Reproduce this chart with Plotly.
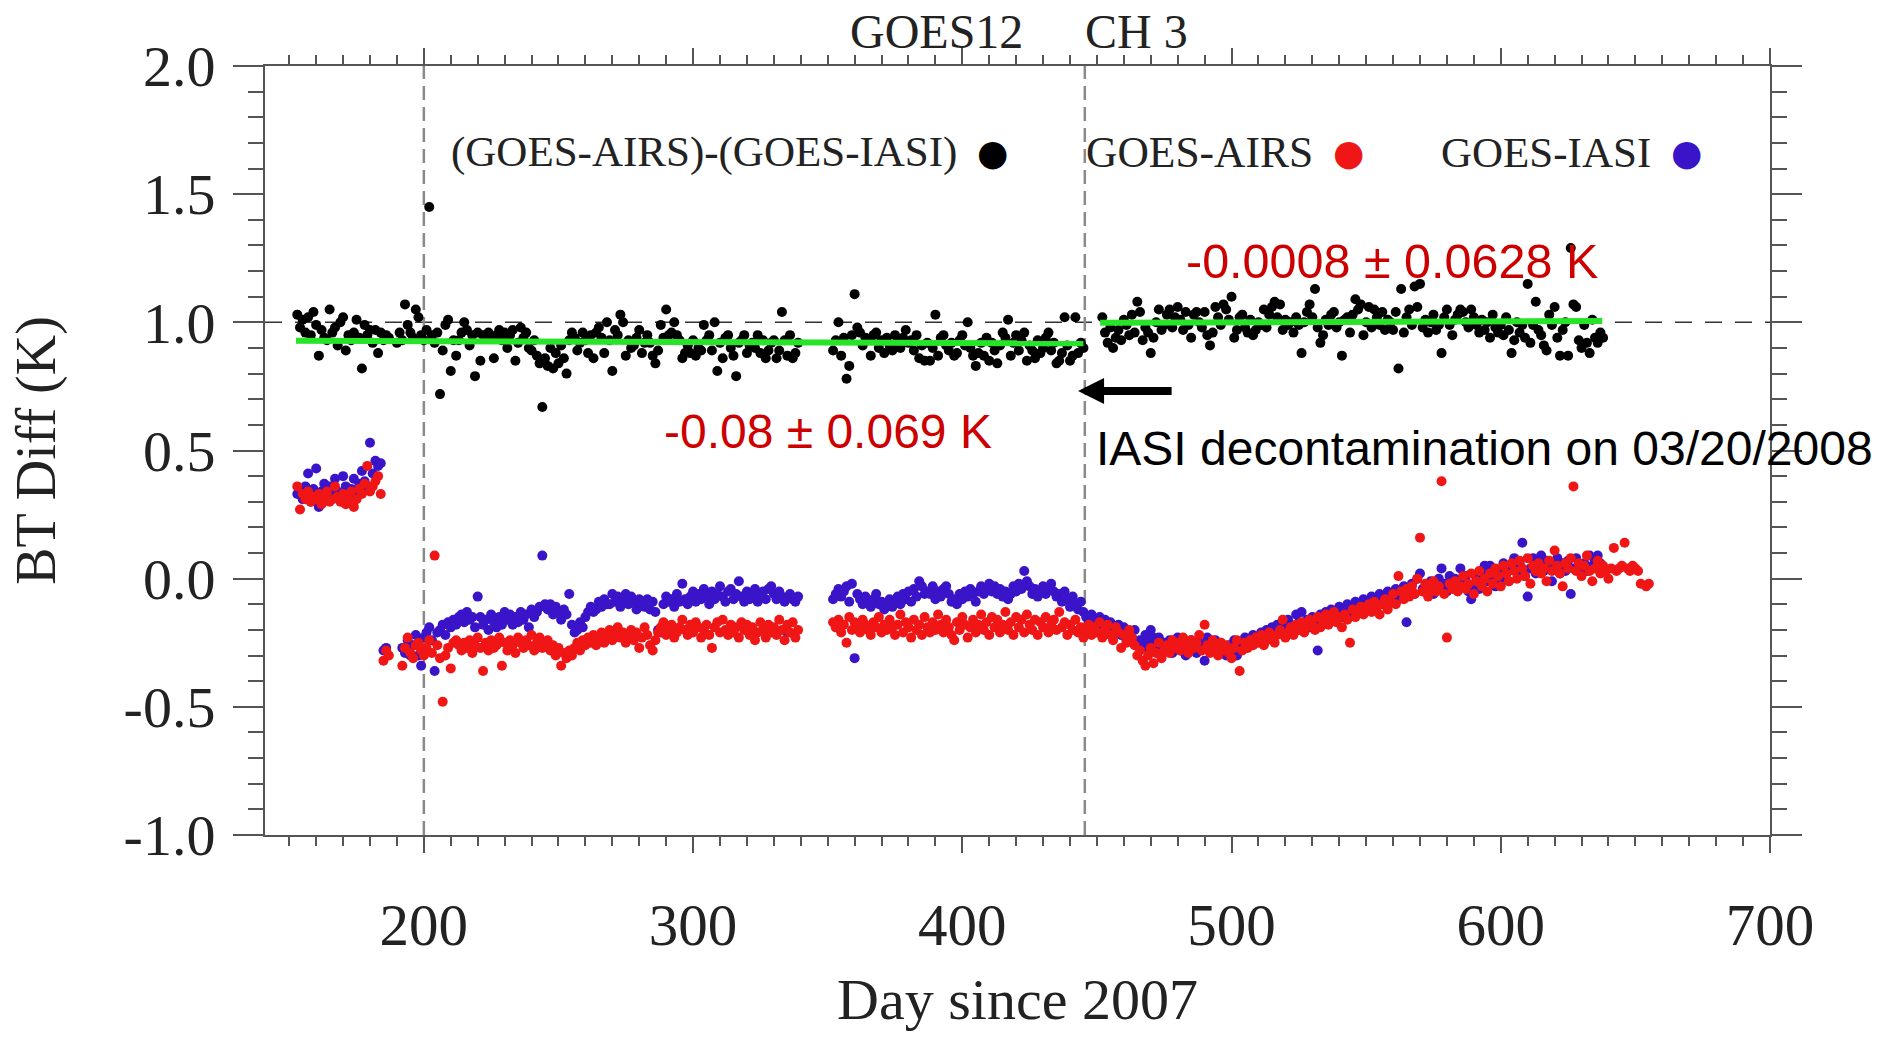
import plotly.graph_objects as go

# ---------------- data ----------------
# (GOES-AIRS)-(GOES-IASI)  -- daily values, segments start at given day
black_start_1 = 153
black_vals_1 = [
    1.03, 0.98, 1.01, 0.96, 1.02, 0.95, 1.04, 0.99, 0.87, 0.97,
    0.94, 0.93, 1.05, 0.96, 0.98, 0.91, 1.00, 1.02, 0.89, 0.95,
    0.93, 0.96, 1.01, 0.94, 0.82, 0.99, 0.95, 0.97, 0.92, 0.97,
    0.88, 0.96, 0.93, 0.95, 0.94, None, None, 0.92, 0.96, 0.93,
    1.07, 0.99, 0.96, 0.94, 1.05, 1.02, 0.95, 0.93, 0.97, 1.45,
    0.95, 0.92, 0.96, 0.72, 0.89, 0.99, 1.01, 0.81, 0.93, 0.87,
    0.93, 0.96, 1.00, 0.97, 0.91, 0.95, 0.79, 0.96, 0.85, 0.95,
    0.95, 0.96, 0.94, 0.86, 0.95, 0.97, 0.93, 0.96, 0.90, 0.95,
    0.97, 0.85, 0.92, 0.98, 0.94, 0.96, 0.90, 0.89, 0.93, 0.87,
    0.84, 0.67, 0.86, 0.83, 0.90, 0.82, 0.88, 0.84, 0.91, 0.86,
    0.80, 0.93, 0.96, 0.94, 0.89, 0.92, 0.96, 0.93, 0.88, 0.95,
    0.86, 0.96, 0.98, 0.94, 0.88, 1.00, 0.93, 0.81, 0.97, 0.95,
    1.03, 1.00, 0.87, 0.93, 0.90, 0.91, 0.94, 0.97, 0.88, 0.92,
    0.95, 0.92, 0.87, 0.84, 0.89, 0.99, 0.94, 1.05, 0.95, 0.96,
    1.00, 0.95, 0.93, 0.86, 0.88, 0.91, 0.88, 0.93, 0.87, 0.90,
    0.89, 0.99, 0.93, 0.95, 0.89, 1.00, 0.81, 0.92, 0.86, 0.94,
    0.95, 0.90, 0.87, 0.79, 0.92, 0.93, 0.95, 0.88, 0.91, 0.92,
    0.90, 0.95, 0.88, 0.93, 0.86, 0.89, 0.92, 0.93, 0.86, 0.89,
    1.04, 0.93, 0.87, 0.95, 0.86, 0.88, 0.92,
]
black_start_2 = 352
black_vals_2 = [
    0.89, 0.93, 1.00, 0.87, 0.94, 0.78, 0.83, 0.95, 1.11, 0.98,
    0.96, 0.91, 0.94, 0.93, 0.87, 0.95, 0.96, 0.90, 0.93, 0.88,
    0.94, 0.91, 0.89, 0.95, 0.92, 0.90, 0.94, 0.97, 0.92, 0.93,
    0.89, 0.95, 0.86, 0.91, 0.85, 0.92, 0.85, 0.90, 1.03, 0.87,
    0.94, 0.95, 0.91, 0.89, 0.92, 0.87, 0.88, 0.93, 0.95, 0.91,
    1.00, 0.90, 0.87, 0.83, 0.88, 0.92, 0.87, 0.94, 0.85, 0.92,
    0.89, 0.84, 0.91, 0.96, 0.94, 1.01, 0.87, 0.92, 0.95, 0.89,
    0.93, 0.96, 0.85, 0.91, 0.89, 0.86, 0.93, 0.88, 0.90, 0.94,
    0.96, 0.89, 0.92, 0.84, 0.85, 0.88, 1.02, 0.91, 0.85, 0.87,
    1.02, 0.88, 0.92, 0.90,
]
black_start_3 = 452
black_vals_3 = [
    1.02, 0.96, 0.92, 0.98, 0.90, 0.94, 0.97, 0.93, 1.01, 0.99,
    0.95, 1.03, 0.96, 1.08, 1.04, 0.93, 0.98, 0.96, 0.88, 0.94,
    1.00, 1.05, 0.97, 0.99, 1.03, 1.05, 0.98, 1.02, 1.06, 1.01,
    0.97, 1.04, 0.99, 0.94, 1.03, 1.04, 1.00, 0.98, 1.04, 0.95,
    0.91, 0.96, 1.06, 1.02, 0.99, 1.07, 1.05, 1.01, 1.10, 0.94,
    0.97, 1.02, 1.03, 0.98, 0.96, 1.01, 0.95, 0.97, 1.00, 0.99,
    1.05, 0.98, 1.03, 1.06, 1.08, 1.02, 1.07, 0.97, 1.01, 0.99,
    1.00, 0.96, 1.02, 0.99, 0.88, 1.00, 1.04, 1.07, 1.02, 1.13,
    0.98, 0.92, 0.95, 1.01, 0.99, 1.03, 1.04, 0.98, 1.00, 0.87,
    1.01, 1.02, 0.96, 1.03, 1.09, 1.05, 1.07, 0.95, 1.00, 1.06,
    0.98, 1.05, 1.02, 0.99, 1.04, 0.97, 1.01, 1.00, 0.97, 1.04,
    0.82, 1.13, 0.96, 1.02, 1.05, 0.99, 1.14, 1.06, 1.15, 0.98,
    1.01, 0.96, 1.00, 1.03, 0.97, 0.99, 0.88, 1.02, 1.05, 0.99,
    0.95, 1.01, 1.03, 1.05, 1.04, 1.00, 0.98, 1.05, 1.02, 0.99,
    0.96, 1.01, 0.97, 1.00, 0.94, 1.03, 0.98, 0.96, 0.99, 0.95,
    1.02, 0.97, 0.88, 0.93, 1.00, 0.96, 0.99, 0.94, 1.15, 0.92,
    0.99, 1.08, 0.97, 0.95, 0.91, 0.89, 1.03, 0.99, 1.06, 0.94,
    0.87, 0.97, 1.00, 0.87, 1.29, 1.07, 1.06, 0.93, 0.90, 0.99,
    0.92, 0.88, 1.01, 0.94, 0.92, 0.96, 0.94,
]

# GOES-AIRS
red_start_1 = 153
red_vals_1 = [
    0.36, 0.27, 0.33, 0.31, 0.34, 0.30, 0.32, 0.31, 0.33, 0.29,
    0.32, 0.34, 0.30, 0.31, 0.36, 0.32, 0.30, 0.33, 0.29, 0.31,
    0.34, 0.28, 0.31, 0.35, 0.33, 0.37, 0.44, 0.34, 0.36, 0.38,
    0.40, 0.33,
]
red_start_2 = 185
red_vals_2 = [
    -0.32, -0.28, -0.30, None, None, None, None, -0.34, -0.27, -0.23,
    -0.29, -0.31, -0.26, -0.25, -0.28, -0.30, -0.27, -0.24, -0.29, 0.09,
    -0.26, -0.31, -0.48, -0.30, -0.27, -0.35, -0.25, -0.24, -0.26, -0.28,
    -0.25, -0.27, -0.24, -0.29, -0.26, -0.23, -0.27, -0.36, -0.25, -0.28,
    -0.24, -0.27, -0.26, -0.23, -0.34, -0.25, -0.28, -0.24, -0.26, -0.29,
    -0.23, -0.25, -0.27, -0.24, -0.26, -0.22, -0.28, -0.25, -0.23, -0.27,
    -0.25, -0.24, -0.28, -0.26, -0.30, -0.27, -0.34, -0.29, -0.31, -0.28,
    -0.30, -0.27, -0.25, -0.28, -0.24, -0.26, -0.23, -0.25, -0.22, -0.26,
    -0.24, -0.21, -0.25, -0.23, -0.20, -0.24, -0.22, -0.19, -0.23, -0.21,
    -0.25, -0.22, -0.20, -0.24, -0.21, -0.27, -0.23, -0.19, -0.22, -0.26,
    -0.28, -0.24, -0.21, -0.19, -0.17, -0.22, -0.20, -0.18, -0.23, -0.21,
    -0.19, -0.16, -0.20, -0.22, -0.18, -0.21, -0.17, -0.19, -0.23, -0.20,
    -0.18, -0.22, -0.27, -0.19, -0.17, -0.21, -0.16, -0.20, -0.22, -0.18,
    -0.21, -0.19, -0.23, -0.17, -0.20, -0.18, -0.22, -0.19, -0.24, -0.21,
    -0.17, -0.20, -0.23, -0.18, -0.21, -0.19, -0.22, -0.16, -0.20, -0.24,
    -0.18, -0.21, -0.17, -0.23, -0.20,
]
red_start_3 = 352
red_vals_3 = [
    -0.17, -0.19, -0.16, -0.21, -0.18, -0.25, -0.15, -0.20, -0.17, -0.19,
    -0.21, -0.16, -0.18, -0.20, -0.22, -0.17, -0.19, -0.15, -0.21, -0.18,
    -0.20, -0.16, -0.19, -0.22, -0.18, -0.14, -0.21, -0.17, -0.19, -0.23,
    -0.16, -0.20, -0.18, -0.22, -0.15, -0.19, -0.21, -0.17, -0.20, -0.14,
    -0.18, -0.21, -0.16, -0.19, -0.22, -0.24, -0.17, -0.20, -0.15, -0.18,
    -0.23, -0.19, -0.16, -0.21, -0.18, -0.14, -0.20, -0.17, -0.22, -0.15,
    -0.19, -0.16, -0.21, -0.18, -0.13, -0.20, -0.17, -0.22, -0.15, -0.19,
    -0.16, -0.21, -0.14, -0.18, -0.20, -0.16, -0.22, -0.17, -0.19, -0.15,
    -0.21, -0.18, -0.16, -0.20, -0.13, -0.19, -0.17, -0.22, -0.18, -0.20,
    -0.16, -0.21, -0.19, -0.23,
]
red_start_4 = 446
red_vals_4 = [
    -0.20, -0.18, -0.22, -0.19, -0.21, -0.17, -0.23, -0.20, -0.18, -0.22,
    -0.24, -0.19, -0.21, -0.27, -0.22, -0.25, -0.20, -0.23, -0.26, -0.30,
    -0.28, -0.32, -0.34, -0.30, -0.27, -0.33, -0.29, -0.25, -0.31, -0.28,
    -0.26, -0.29, -0.24, -0.27, -0.25, -0.28, -0.23, -0.26, -0.29, -0.24,
    -0.27, -0.25, -0.22, -0.28, -0.18, -0.26, -0.29, -0.24, -0.27, -0.30,
    -0.25, -0.28, -0.26, -0.29, -0.31, -0.27, -0.24, -0.36, -0.28, -0.25,
    -0.27, -0.24, -0.26, -0.23, -0.25, -0.22, -0.26, -0.24, -0.21, -0.23,
    -0.25, -0.22, -0.20, -0.16, -0.23, -0.21, -0.19, -0.22, -0.18, -0.20,
    -0.17, -0.21, -0.19, -0.16, -0.18, -0.20, -0.15, -0.19, -0.17, -0.14,
    -0.18, -0.16, -0.13, -0.17, -0.15, -0.19, -0.14, -0.16, -0.25, -0.12,
    -0.15, -0.13, -0.11, -0.14, -0.12, -0.10, -0.13, -0.09, -0.11, -0.14,
    -0.10, -0.08, -0.12, -0.09, -0.06, -0.10, 0.01, -0.05, -0.08, -0.04,
    -0.07, -0.03, -0.06, 0.00, 0.16, -0.05, -0.02, -0.07, -0.04, -0.01,
    -0.05, -0.03, 0.38, -0.06, -0.23, -0.02, -0.04, -0.01, -0.05, -0.03,
    0.01, -0.04, -0.02, 0.02, -0.06, -0.01, 0.03, -0.03, 0.00, -0.05,
    0.02, -0.02, 0.04, 0.01, -0.03, 0.05, 0.02, -0.01, 0.06, 0.03,
    0.00, 0.07, 0.04, 0.01, 0.08, -0.02, 0.05, 0.03, 0.06, 0.02,
    0.04, -0.01, 0.07, 0.03, 0.11, 0.05, 0.02, -0.03, 0.06, 0.04,
    0.08, 0.36, 0.03, 0.06, 0.01, 0.05, 0.09, 0.03, -0.01, 0.04,
    0.07, 0.02, 0.05, 0.03, 0.00, 0.04, 0.12, 0.03, 0.04, 0.05,
    0.14, 0.04, 0.03, 0.05, 0.04, 0.03, -0.02, None, -0.03, -0.02,
]

# GOES-IASI
blue_start_1 = 153
blue_vals_1 = [
    0.33, 0.35, 0.31, 0.36, 0.41, 0.30, 0.35, 0.43, 0.28, 0.34,
    0.37, 0.31, 0.36, 0.33, 0.39, 0.34, 0.32, 0.40, 0.36, 0.33,
    0.35, 0.39, 0.32, 0.37, 0.42, 0.38, 0.36, 0.53, 0.41, 0.46,
    0.44, 0.45,
]
blue_start_2 = 185
blue_vals_2 = [
    -0.28, -0.27, None, None, None, None, None, -0.27, -0.29, -0.24,
    -0.30, -0.26, -0.22, -0.30, -0.34, -0.23, -0.21, -0.19, -0.24, -0.36,
    -0.21, -0.20, -0.18, -0.22, -0.17, -0.19, -0.16, -0.18, -0.15, -0.14,
    -0.17, -0.13, -0.16, -0.15, -0.19, -0.07, -0.15, -0.18, -0.16, -0.20,
    -0.14, -0.17, -0.19, -0.15, -0.18, -0.13, -0.16, -0.14, -0.18, -0.15,
    -0.17, -0.13, -0.16, -0.14, -0.19, -0.12, -0.15, -0.13, -0.11, 0.09,
    -0.10, -0.12, -0.10, -0.14, -0.11, -0.13, -0.16, -0.12, -0.14, -0.06,
    -0.18, -0.21, -0.20, -0.17, -0.19, -0.15, -0.13, -0.11, -0.13, -0.12,
    -0.09, -0.11, -0.08, -0.10, -0.10, -0.06, -0.09, -0.07, -0.11, -0.08,
    -0.06, -0.10, -0.07, -0.09, -0.12, -0.08, -0.10, -0.11, -0.08, -0.12,
    -0.09, -0.13, -0.20, -0.21, -0.10, -0.07, -0.09, -0.08, -0.11, -0.06,
    -0.09, -0.02, -0.08, -0.10, -0.07, -0.05, -0.09, -0.06, -0.08, -0.04,
    -0.07, -0.10, -0.05, -0.08, -0.06, -0.03, -0.07, -0.09, -0.05, -0.04,
    -0.08, -0.06, -0.01, -0.07, -0.09, -0.05, -0.08, -0.06, -0.04, -0.09,
    -0.07, -0.05, -0.08, -0.04, -0.03, -0.06, -0.08, -0.05, -0.07, -0.09,
    -0.21, -0.06, -0.08, -0.09, -0.07,
]
blue_start_3 = 352
blue_vals_3 = [
    -0.08, -0.06, -0.04, -0.07, -0.05, -0.03, -0.09, -0.02, -0.31, -0.06,
    -0.08, -0.10, -0.07, -0.09, -0.11, -0.08, -0.06, -0.10, -0.09, -0.12,
    -0.10, -0.08, -0.11, -0.09, -0.07, -0.10, -0.06, -0.08, -0.05, -0.09,
    -0.04, -0.07, -0.01, -0.03, -0.06, -0.05, -0.06, -0.03, -0.08, -0.05,
    -0.07, -0.04, -0.03, -0.06, -0.09, -0.08, -0.10, -0.06, -0.08, -0.05,
    -0.07, -0.04, -0.06, -0.09, -0.05, -0.03, -0.06, -0.04, -0.02, -0.05,
    -0.03, -0.06, -0.04, -0.07, -0.05, -0.08, -0.06, -0.03, -0.05, -0.02,
    -0.04, 0.03, -0.01, -0.03, -0.06, -0.04, -0.07, -0.05, -0.03, -0.06,
    -0.04, -0.02, -0.05, -0.07, -0.06, -0.09, -0.05, -0.08, -0.11, -0.07,
    -0.10, -0.12, -0.09, -0.13,
]
blue_start_4 = 446
blue_vals_4 = [
    -0.15, -0.17, -0.14, -0.19, -0.16, -0.15, -0.18, -0.16, -0.20, -0.17,
    -0.19, -0.21, -0.18, -0.22, -0.19, -0.24, -0.21, -0.23, -0.20, -0.26,
    -0.24, -0.27, -0.22, -0.25, -0.20, -0.23, -0.26, -0.23, -0.28, -0.25,
    -0.27, -0.24, -0.29, -0.26, -0.23, -0.28, -0.25, -0.30, -0.27, -0.24,
    -0.26, -0.29, -0.25, -0.27, -0.32, -0.23, -0.28, -0.26, -0.24, -0.28,
    -0.25, -0.27, -0.30, -0.26, -0.29, -0.24, -0.30, -0.27, -0.25, -0.23,
    -0.26, -0.24, -0.22, -0.25, -0.23, -0.21, -0.24, -0.20, -0.22, -0.19,
    -0.21, -0.18, -0.20, -0.17, -0.19, -0.16, -0.18, -0.20, -0.14, -0.17,
    -0.13, -0.18, -0.16, -0.19, -0.15, -0.17, -0.28, -0.14, -0.16, -0.13,
    -0.15, -0.12, -0.16, -0.14, -0.11, -0.15, -0.13, -0.10, -0.14, -0.12,
    -0.09, -0.13, -0.11, -0.08, -0.12, -0.10, -0.07, -0.11, -0.09, -0.06,
    -0.10, -0.08, -0.05, -0.09, -0.07, -0.04, -0.08, -0.06, -0.03, -0.17,
    -0.05, -0.02, -0.06, 0.00, 0.02, -0.04, -0.03, -0.05, -0.01, -0.06,
    -0.03, 0.00, 0.04, -0.02, -0.05, 0.01, -0.03, 0.00, -0.04, 0.04,
    -0.02, 0.01, -0.05, -0.08, -0.03, 0.00, -0.04, 0.02, 0.05, -0.01,
    0.05, 0.01, -0.03, 0.03, 0.00, 0.06, 0.02, -0.01, 0.04, 0.08,
    0.03, 0.06, 0.14, 0.01, -0.07, 0.04, 0.08, 0.02, 0.06, 0.09,
    0.03, 0.07, 0.04, -0.01, 0.05, 0.08, 0.02, 0.06, 0.03, 0.07,
    -0.06, 0.04, 0.08, 0.05, 0.02, 0.06, 0.03, 0.09, 0.05, 0.07,
    0.09, 0.06, 0.04,
]

# linear fits (green) before / after the decontamination
fit1_days = [152.5, 445.0]
fit1_vals = [0.928, 0.918]
fit2_days = [451.2, 637.7]
fit2_vals = [0.998, 1.005]

marker_days = [200.0, 445.5]          # vertical dashed lines
ref_level = 1.0                        # horizontal dashed line

x_ticks = [200, 300, 400, 500, 600, 700]
y_ticks = [-1.0, -0.5, 0.0, 0.5, 1.0, 1.5, 2.0]
y_tick_text = ["-1.0", "-0.5", "0.0", "0.5", "1.0", "1.5", "2.0"]


def seg(start, vals):
    return [start + i for i in range(len(vals))], vals


def join(*segs):
    xs, ys = [], []
    for s, v in segs:
        d, vv = seg(s, v)
        xs += d
        ys += vv
    return xs, ys


bx, by = join((black_start_1, black_vals_1), (black_start_2, black_vals_2),
              (black_start_3, black_vals_3))
rx, ry = join((red_start_1, red_vals_1), (red_start_2, red_vals_2),
              (red_start_3, red_vals_3), (red_start_4, red_vals_4))
ux, uy = join((blue_start_1, blue_vals_1), (blue_start_2, blue_vals_2),
              (blue_start_3, blue_vals_3), (blue_start_4, blue_vals_4))

RED = "rgb(240,22,22)"
BLUE = "rgb(58,20,200)"
GREEN = "rgb(40,228,40)"
AX = "#555555"
SERIF = "Liberation Serif, Times New Roman, serif"
SANS = "Liberation Sans, Arial, sans-serif"

fig = go.Figure()
fig.add_trace(go.Scatter(x=ux, y=uy, mode="markers", name="GOES-IASI",
                         marker=dict(color=BLUE, size=10), cliponaxis=True))
fig.add_trace(go.Scatter(x=rx, y=ry, mode="markers", name="GOES-AIRS",
                         marker=dict(color=RED, size=10), cliponaxis=True))
fig.add_trace(go.Scatter(x=bx, y=by, mode="markers",
                         name="(GOES-AIRS)-(GOES-IASI)",
                         marker=dict(color="black", size=10), cliponaxis=True))
fig.add_trace(go.Scatter(x=fit1_days, y=fit1_vals, mode="lines",
                         line=dict(color=GREEN, width=6)))
fig.add_trace(go.Scatter(x=fit2_days, y=fit2_vals, mode="lines",
                         line=dict(color=GREEN, width=6)))

shapes = []
for d in marker_days:
    shapes.append(dict(type="line", xref="x", yref="y", x0=d, x1=d,
                       y0=-1.0, y1=2.0, layer="below",
                       line=dict(color="#8a8a8a", width=2.5, dash="14px,7px")))
shapes.append(dict(type="line", xref="paper", yref="y", x0=0, x1=1,
                   y0=ref_level, y1=ref_level, layer="below",
                   line=dict(color="#333333", width=1.5, dash="17px,13px")))

annotations = [
    dict(x=0.4465, y=1.0455, xref="paper", yref="paper", text="GOES12",
         xanchor="center", yanchor="middle",
         showarrow=False, font=dict(family=SERIF, size=48, color="#222")),
    dict(x=0.5794, y=1.0455, xref="paper", yref="paper", text="CH 3",
         xanchor="center", yanchor="middle",
         showarrow=False, font=dict(family=SERIF, size=48, color="#222")),
    dict(x=559.6, y=1.239, text="-0.0008 ± 0.0628 K", showarrow=False,
         font=dict(family=SANS, size=48.5, color="#cc0000")),
    dict(x=350.1, y=0.576, text="-0.08 ± 0.069 K", showarrow=False,
         font=dict(family=SANS, size=48, color="#cc0000")),
    dict(x=593.8, y=0.506, text="IASI decontamination on 03/20/2008",
         showarrow=False, font=dict(family=SANS, size=48, color="black")),
    dict(x=443.0, y=0.732, ax=478.3, ay=0.732, axref="x", ayref="y",
         text="", showarrow=True, arrowhead=2, arrowsize=0.65,
         arrowwidth=8, arrowcolor="black"),
    dict(x=398.8, y=1.664, xanchor="right", text="(GOES-AIRS)-(GOES-IASI)",
         showarrow=False, font=dict(family=SERIF, size=43, color="#222")),
    dict(x=531.0, y=1.664, xanchor="right", text="GOES-AIRS",
         showarrow=False, font=dict(family=SERIF, size=43.5, color="#222")),
    dict(x=656.6, y=1.664, xanchor="right", text="GOES-IASI",
         showarrow=False, font=dict(family=SERIF, size=43, color="#222")),
    dict(x=411.1, y=1.664, text="●", showarrow=False,
         font=dict(family="DejaVu Sans", size=36, color="black")),
    dict(x=543.3, y=1.664, text="●", showarrow=False,
         font=dict(family="DejaVu Sans", size=36, color=RED)),
    dict(x=668.9, y=1.664, text="●", showarrow=False,
         font=dict(family="DejaVu Sans", size=36, color=BLUE)),
]

fig.update_layout(
    width=1892, height=1037,
    margin=dict(l=265, r=122, t=66, b=202),
    paper_bgcolor="white", plot_bgcolor="white",
    showlegend=False,
    shapes=shapes, annotations=annotations,
    font=dict(family=SERIF, color="#222"),
)
fig.update_xaxes(
    range=[141, 700], showgrid=False, zeroline=False, automargin=False,
    showline=True, linecolor=AX, linewidth=2, mirror="ticks",
    ticks="outside", ticklen=16, tickwidth=2, tickcolor=AX,
    tickmode="array", tickvals=x_ticks,
    ticklabelstandoff=21,
    tickfont=dict(family=SERIF, size=59, color="#222"),
    minor=dict(tickmode="linear", tick0=0, dtick=10, ticks="outside",
               ticklen=9, tickwidth=1.5, tickcolor=AX),
    title=dict(text="Day since 2007", standoff=22,
               font=dict(family=SERIF, size=58, color="#222")),
)
fig.update_yaxes(
    range=[-1.0, 2.0], showgrid=False, zeroline=False, automargin=False,
    showline=True, linecolor=AX, linewidth=2, mirror="ticks",
    ticks="outside", ticklen=30, tickwidth=2, tickcolor=AX,
    tickmode="array", tickvals=y_ticks, ticktext=y_tick_text,
    ticklabelstandoff=6,
    tickfont=dict(family=SERIF, size=58, color="#222"),
    minor=dict(tickmode="linear", tick0=-1.0, dtick=0.1, ticks="outside",
               ticklen=15, tickwidth=1.5, tickcolor=AX),
    title=dict(text="BT Diff (K)", standoff=50,
               font=dict(family=SERIF, size=56, color="#222")),
)

fig.write_html("out.html")
